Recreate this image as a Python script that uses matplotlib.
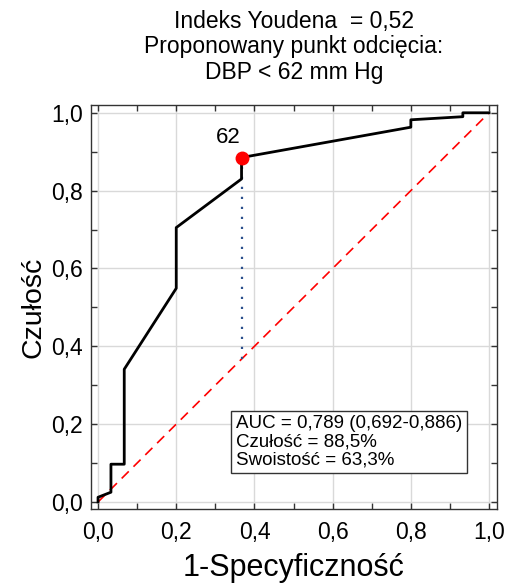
import matplotlib
matplotlib.use('Agg')
from matplotlib import pyplot as plt
from matplotlib.ticker import MultipleLocator

plt.rcParams['font.family'] = ['Liberation Sans', 'DejaVu Sans']

# ROC curve points
fpr = [0.0, 0.0, 0.033, 0.033, 0.067, 0.067, 0.2, 0.2, 0.367, 0.367, 0.8, 0.8, 0.933, 0.933, 1.0]
tpr = [0.0, 0.012, 0.025, 0.097, 0.097, 0.341, 0.549, 0.705, 0.830, 0.885, 0.963, 0.982, 0.990, 1.0, 1.0]

cut_x = 0.367
cut_y = 0.885
cut_label = '62'

title_lines = ['Indeks Youdena  = 0,52', 'Proponowany punkt odcięcia:', 'DBP < 62 mm Hg']
info_lines = ['AUC = 0,789 (0,692-0,886)', 'Czułość = 88,5%', 'Swoistość = 63,3%']
ticks = [0.0, 0.2, 0.4, 0.6, 0.8, 1.0]

fig = plt.figure(figsize=(5.07, 5.85), dpi=100)
ax = fig.add_axes([0.1795, 0.130, 0.8005, 0.6905])

ax.grid(True, color='#d9d9d9', linewidth=1)
ax.set_axisbelow(True)

# reference diagonal
ax.plot([0, 1], [0, 1], color='red', linewidth=1.2, dashes=(6, 4))
# cut-off drop line
ax.plot([cut_x, cut_x], [cut_x, cut_y], color='#2b4f8c', linewidth=1.6, linestyle=(0, (1, 3.5)))
# ROC
ax.plot(fpr, tpr, color='black', linewidth=2)
ax.plot([cut_x], [cut_y], 'o', color='red', markersize=9, zorder=5)
ax.text(cut_x - 0.035, cut_y + 0.025, cut_label, fontsize=16, ha='center', va='bottom')

ax.set_xlim(-0.018, 1.02)
ax.set_ylim(-0.018, 1.02)
ax.set_xticks(ticks)
ax.set_yticks(ticks)
ax.xaxis.set_minor_locator(MultipleLocator(0.1))
ax.yaxis.set_minor_locator(MultipleLocator(0.1))
fmt = lambda v, p: ('%.1f' % v).replace('.', ',')
ax.xaxis.set_major_formatter(fmt)
ax.yaxis.set_major_formatter(fmt)
ax.tick_params(which='both', direction='in', top=True, right=True, length=4, width=1, color='#333333', labelsize=16.5)
ax.tick_params(axis='x', pad=9)
ax.tick_params(axis='y', pad=6)
for s in ax.spines.values():
    s.set_color('#333333')
    s.set_linewidth(1)

ax.set_xlabel('1-Specyficzność', fontsize=22, labelpad=6)
ax.set_ylabel('Czułość', fontsize=20.5, labelpad=3)
ax.set_title('\n'.join(title_lines), fontsize=16.5, linespacing=1.12, pad=19)

ax.text(0.352, 0.086, '\n'.join(info_lines), fontsize=13.5, ha='left', va='bottom', linespacing=1.08,
        bbox=dict(boxstyle='square,pad=0.25', facecolor='white', edgecolor='#333333', linewidth=1))

fig.savefig('out.png', dpi=100)
